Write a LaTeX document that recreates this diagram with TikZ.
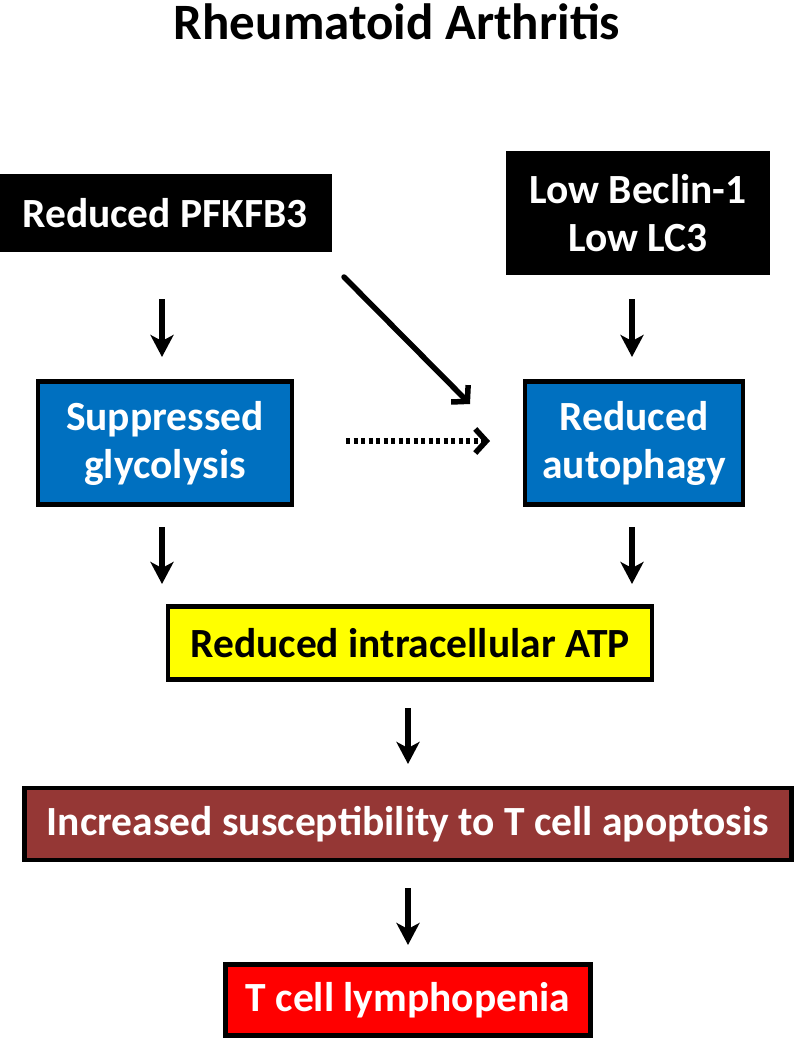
\documentclass[tikz,border=0pt]{standalone}
\usepackage{fontspec}
\setmainfont{Carlito}
\usetikzlibrary{arrows.meta}
\definecolor{boxblue}{HTML}{0070C0}
\definecolor{boxbrown}{HTML}{953735}
\definecolor{boxyellow}{HTML}{FFFF00}
\definecolor{boxred}{HTML}{FF0000}
\begin{document}
\begin{tikzpicture}[x=1pt,y=-1pt,
  box/.style={draw=black,line width=4.5pt,inner sep=0pt,align=center,font=\bfseries\fontsize{41.5}{48}\selectfont},
  blk/.style={box,fill=black,text=white},
  blu/.style={box,fill=boxblue,text=white},
  arr/.style={-{Stealth[length=22pt,width=23pt,inset=6pt]},line width=5.5pt},
  barb/.style={-{Straight Barb[length=11pt,width=24pt]},line width=5.5pt}]
\useasboundingbox (0,0) rectangle (794,1050);
\node[font=\bfseries\fontsize{51}{58}\selectfont] (title) at (397,22) {Rheumatoid Arthritis};
\node[blk,minimum width=330pt,minimum height=74pt] (pfk) at (165,213) {Reduced PFKFB3};
\node[blk,minimum width=260pt,minimum height=120pt] (bec) at (638,213) {Low Beclin-1\\Low LC3};
\node[blu,minimum width=254pt,minimum height=123pt] (gly) at (165,443) {Suppressed\\glycolysis};
\node[blu,minimum width=218pt,minimum height=123pt] (aut) at (634,443) {Reduced\\autophagy};
\node[box,fill=boxyellow,text=black,minimum width=484pt,minimum height=73pt] (atp) at (410,643) {Reduced intracellular ATP};
\node[box,fill=boxbrown,text=white,minimum width=767pt,minimum height=72pt] (sus) at (408,824) {Increased susceptibility to T cell apoptosis};
\node[box,fill=boxred,text=white,minimum width=365pt,minimum height=71pt] (lym) at (408,1000) {T cell lymphopenia};
\coordinate (a1s) at (162,299); \coordinate (a1e) at (162,357);
\coordinate (a2s) at (632,299); \coordinate (a2e) at (632,357);
\coordinate (a3s) at (162,527); \coordinate (a3e) at (162,584);
\coordinate (a4s) at (632,527); \coordinate (a4e) at (632,584);
\coordinate (a5s) at (408,708); \coordinate (a5e) at (408,764);
\coordinate (a6s) at (408,888); \coordinate (a6e) at (408,945);
\coordinate (ds) at (344,277); \coordinate (de) at (470,404);
\coordinate (ts) at (346,441); \coordinate (te) at (490,441);
\draw[arr] (a1s) -- (a1e);
\draw[arr] (a2s) -- (a2e);
\draw[arr] (a3s) -- (a3e);
\draw[arr] (a4s) -- (a4e);
\draw[arr] (a5s) -- (a5e);
\draw[arr] (a6s) -- (a6e);
\draw[barb,line cap=round] (ds) -- (de);
\draw[barb,dash pattern=on 4pt off 3.5pt] (ts) -- (te);
\end{tikzpicture}
\end{document}
